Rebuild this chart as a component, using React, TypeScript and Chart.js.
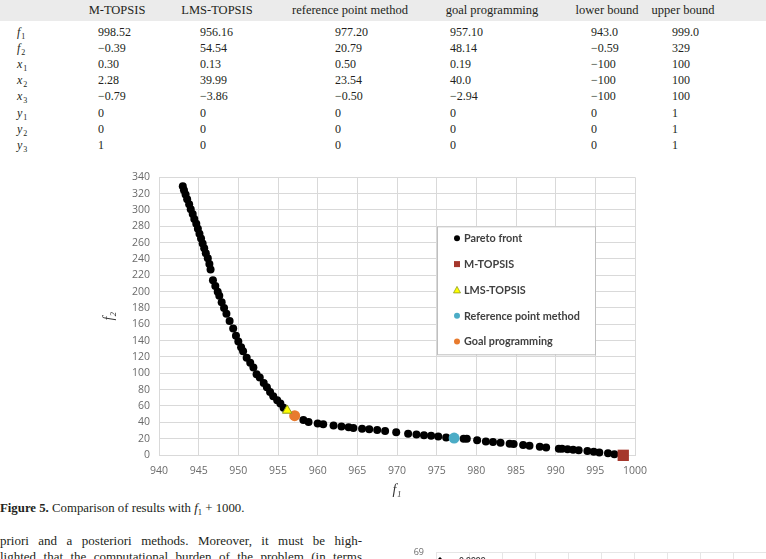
import React, { useEffect, useRef } from "react";
import { Chart, registerables } from "chart.js";

Chart.register(...registerables);

// Pareto front of the bi-objective problem (f1 shifted by +1000, f2)
const paretoF1 = [
  943.0, 943.15, 943.35, 943.55, 943.8, 944.0, 944.25, 944.45, 944.7, 944.9,
  945.1, 945.3, 945.5, 945.7, 945.9, 946.15, 946.35, 946.5, 946.8, 947.1,
  947.4, 947.6, 947.9, 948.2, 948.5, 948.9, 949.35, 949.7, 950.0, 950.35,
  950.6, 951.05, 951.5, 951.9, 952.3, 952.7, 953.2, 953.6, 954.0, 954.4,
  954.9, 955.3, 955.7, 958.2, 958.85, 960.0, 960.7, 962.0, 963.0, 963.9,
  964.5, 965.6, 966.5, 967.5, 968.5, 969.9, 971.4, 972.45, 973.4, 974.3,
  975.2, 976.2, 978.4, 978.8, 980.1, 981.2, 982.1, 983.05, 984.2, 984.7,
  985.9, 986.7, 988.0, 988.8, 990.4, 990.8, 991.5, 992.2, 992.9, 994.0,
  994.8, 995.5, 996.6, 997.4,
];
const paretoF2 = [
  329, 324, 319, 313, 307, 301, 295, 289, 283, 277,
  271, 265, 259, 253, 247, 241, 234, 227, 214, 207,
  200, 195, 187, 180, 173, 164, 155, 146, 139, 132,
  127, 119, 113, 107, 99, 95, 88, 83, 77, 72,
  67, 63, 58, 43, 40.5, 38.5, 37.5, 36, 35, 34,
  33, 32, 31.5, 30.5, 29.5, 28, 26, 25, 24.3, 23.5,
  22.7, 21.5, 19.8, 19.8, 18, 16.6, 15.8, 15, 13.7, 13.4,
  12.1, 11.3, 10.1, 9.3, 7.7, 7.5, 6.9, 6.5, 5.7, 4.9,
  4.1, 3.2, 2.0, 0.8,
];

// Compromise solutions picked by each method
const methodLabels = ["M-TOPSIS", "LMS-TOPSIS", "Reference point method", "Goal programming"];
const methodF1 = [998.52, 956.16, 977.2, 957.1];
const methodF2 = [-0.39, 54.54, 20.79, 48.14];

// Table contents
const tableHeaders = ["M-TOPSIS", "LMS-TOPSIS", "reference point method", "goal programming", "lower bound", "upper bound"];
const rowSymbols = ["f", "f", "x", "x", "x", "y", "y", "y"];
const rowIndices = ["1", "2", "1", "2", "3", "1", "2", "3"];
const mTopsisVars = ["0.30", "2.28", "\u22120.79", "0", "0", "1"];
const lmsTopsisVars = ["0.13", "39.99", "\u22123.86", "0", "0", "0"];
const referenceVars = ["0.50", "23.54", "\u22120.50", "0", "0", "0"];
const goalVars = ["0.19", "40.0", "\u22122.94", "0", "0", "0"];
const lowerBound = ["943.0", "\u22120.59", "\u2212100", "\u2212100", "\u2212100", "0", "0", "0"];
const upperBound = ["999.0", "329", "100", "100", "100", "1", "1", "1"];

// Axis ranges
const f1Min = 940;
const f1Max = 1000;
const f1Step = 5;
const f2Min = 0;
const f2Max = 340;
const f2Step = 20;

// Second figure (only its top edge is on the page)
const zrLabel = "zr=0.9999";
const zrYMax = 69;

// ---- styling -----------------------------------------------------------
const markerStyles = [
  { style: "rect", color: "#A5372C", border: "#A5372C", r: 8 },
  { style: "triangle", color: "#FFFF00", border: "#8E9A1E", r: 5.5 },
  { style: "circle", color: "#4BACC6", border: "#4BACC6", r: 5.5 },
  { style: "circle", color: "#E87B2E", border: "#E87B2E", r: 5.5 },
];

const fmt = (v: number) => v.toFixed(2).replace("-", "\u2212");

const colHeaderCenter = [117, 217, 350, 492, 607, 683];
const colValueLeft = [98, 200, 335, 450, 591, 672];
const rowY = [32, 48, 64, 80, 96, 113, 129, 145];

const legendPlugin = {
  id: "boxLegend",
  afterDraw(chart: any) {
    const { ctx, chartArea } = chart;
    const left = chartArea.left + 278;
    const top = chartArea.top + 49;
    const w = 158;
    const h = 128;
    ctx.save();
    ctx.fillStyle = "#ffffff";
    ctx.fillRect(left, top, w, h);
    ctx.strokeStyle = "#bfbfbf";
    ctx.lineWidth = 1;
    ctx.strokeRect(left + 0.5, top + 0.5, w, h);
    const items = [
      { label: "Pareto front", style: "circle", color: "#000000", border: "#000000" },
      ...methodLabels.map((l, i) => ({ label: l, ...markerStyles[i] })),
    ];
    ctx.font = "bold 10.8px Lato, 'Open Sans', sans-serif";
    ctx.textBaseline = "middle";
    items.forEach((it: any, i: number) => {
      const y = top + 12 + i * 25.8;
      const mx = left + 20;
      ctx.fillStyle = it.color;
      ctx.strokeStyle = it.border;
      if (it.style === "rect") {
        ctx.fillRect(mx - 3, y - 3, 6, 6);
      } else if (it.style === "triangle") {
        ctx.beginPath();
        ctx.moveTo(mx, y - 3.5);
        ctx.lineTo(mx + 3.5, y + 3);
        ctx.lineTo(mx - 3.5, y + 3);
        ctx.closePath();
        ctx.fill();
        ctx.lineWidth = 0.8;
        ctx.stroke();
      } else {
        ctx.beginPath();
        ctx.arc(mx, y, 3, 0, Math.PI * 2);
        ctx.fill();
      }
      ctx.fillStyle = "#404040";
      ctx.fillText(it.label, left + 27, y + 0.5);
    });
    ctx.restore();
  },
};

const zrLegendPlugin = {
  id: "zrLegend",
  afterDraw(chart: any) {
    const { ctx, chartArea } = chart;
    const x = chartArea.left + 4;
    const y = chartArea.top + 8;
    ctx.save();
    ctx.fillStyle = "#000000";
    ctx.beginPath();
    ctx.moveTo(x, y - 3.5);
    ctx.lineTo(x + 3.5, y);
    ctx.lineTo(x, y + 3.5);
    ctx.lineTo(x - 3.5, y);
    ctx.closePath();
    ctx.fill();
    ctx.fillStyle = "#404040";
    ctx.font = "bold 8.5px Lato, sans-serif";
    ctx.textBaseline = "middle";
    ctx.fillText(zrLabel, x + 7, y + 0.5);
    ctx.restore();
  },
};

export default function App() {
  const mainRef = useRef<HTMLCanvasElement>(null);
  const zrRef = useRef<HTMLCanvasElement>(null);

  useEffect(() => {
    const tickFont = { family: "'Open Sans', sans-serif", size: 10.5 };
    const grid = { color: "#d9d9d9", lineWidth: 1, drawTicks: false };
    const plainNumber = (v: any) => String(v);
    const main = new Chart(mainRef.current!, {
      type: "scatter",
      data: {
        datasets: [
          ...methodLabels.map((label, i) => ({
            label,
            data: [{ x: methodF1[i], y: methodF2[i] }],
            pointStyle: markerStyles[i].style,
            pointRadius: markerStyles[i].r,
            backgroundColor: markerStyles[i].color,
            borderColor: markerStyles[i].border,
            borderWidth: markerStyles[i].style === "triangle" ? 1 : 0,
            clip: false,
          })),
          {
            label: "Pareto front",
            data: paretoF1.map((x, i) => ({ x, y: paretoF2[i] })),
            pointStyle: "circle",
            pointRadius: 4,
            backgroundColor: "#000000",
            borderColor: "#000000",
            borderWidth: 0,
            clip: false,
          },
        ],
      },
      options: {
        animation: false,
        responsive: false,
        devicePixelRatio: 1,
        layout: { padding: { left: 0, top: 4, right: 25, bottom: 0 } },
        plugins: { legend: { display: false }, tooltip: { enabled: false } },
        scales: {
          x: {
            type: "linear",
            min: f1Min,
            max: f1Max,
            ticks: { stepSize: f1Step, padding: 10, color: "#6b6b6b", font: tickFont, callback: plainNumber },
            grid,
            border: { color: "#d9d9d9" },
            title: {
              display: true,
              text: "f\u2081",
              color: "#333",
              font: { family: "'Liberation Serif', serif", style: "italic", size: 14 },
              padding: { top: 0, bottom: 0 },
            },
            afterFit: (s: any) => {
              s.height = 44;
            },
          },
          y: {
            type: "linear",
            min: f2Min,
            max: f2Max,
            ticks: { stepSize: f2Step, padding: 9, color: "#6b6b6b", font: tickFont, callback: plainNumber },
            grid,
            border: { color: "#d9d9d9" },
            title: {
              display: true,
              text: "f\u2082",
              color: "#333",
              font: { family: "'Liberation Serif', serif", style: "italic", size: 14 },
              padding: { top: 1, bottom: 0 },
            },
            afterFit: (s: any) => {
              s.width = 59;
            },
          },
        },
      },
      plugins: [legendPlugin],
    } as any);

    const zr = new Chart(zrRef.current!, {
      type: "scatter",
      data: {
        datasets: [
          {
            label: zrLabel,
            data: [],
            pointStyle: "rectRot",
            backgroundColor: "#000",
          },
        ],
      },
      options: {
        animation: false,
        responsive: false,
        devicePixelRatio: 1,
        layout: { padding: { left: 0, top: 0, right: 0, bottom: 0 } },
        plugins: { legend: { display: false }, tooltip: { enabled: false } },
        scales: {
          x: {
            type: "linear",
            min: 0,
            max: 10,
            ticks: { stepSize: 1, display: false },
            grid: { color: "#e6e6e6", drawTicks: false },
            border: { display: false },
          },
          y: {
            type: "linear",
            min: 0,
            max: zrYMax,
            ticks: { stepSize: 10, padding: 12, color: "#6b6b6b", font: { family: "'Open Sans', sans-serif", size: 9 } },
            grid: { color: "#e6e6e6", drawTicks: false },
            border: { display: false },
            afterFit: (s: any) => {
              s.width = 45;
            },
          },
        },
      },
      plugins: [zrLegendPlugin],
    } as any);

    return () => {
      main.destroy();
      zr.destroy();
    };
  }, []);

  const valueColumns: string[][] = [
    [fmt(methodF1[0]), fmt(methodF2[0]), ...mTopsisVars],
    [fmt(methodF1[1]), fmt(methodF2[1]), ...lmsTopsisVars],
    [fmt(methodF1[2]), fmt(methodF2[2]), ...referenceVars],
    [fmt(methodF1[3]), fmt(methodF2[3]), ...goalVars],
    lowerBound,
    upperBound,
  ];

  const serif = "'Liberation Serif', 'DejaVu Serif', serif";
  const cell: React.CSSProperties = {
    position: "absolute",
    fontFamily: serif,
    fontSize: 12,
    color: "#231f20",
    lineHeight: "14px",
    whiteSpace: "nowrap",
  };

  return (
    <div
      style={{
        position: "fixed",
        left: 0,
        top: 0,
        width: 766,
        height: 559,
        overflow: "hidden",
        background: "#ffffff",
      }}
    >
      {/* table header band */}
      <div style={{ position: "absolute", left: 0, top: 0, width: 766, height: 21, background: "#ebebeb" }} />
      {tableHeaders.map((h, i) => (
        <div
          key={h}
          style={{ ...cell, top: 3, left: colHeaderCenter[i], transform: "translateX(-50%)", fontSize: 12.5 }}
        >
          {h}
        </div>
      ))}
      {rowSymbols.map((s, r) => (
        <div key={"row" + r} style={{ ...cell, top: rowY[r] - 7, left: 17 }}>
          <i>{s}</i>
          <span style={{ fontSize: 8, position: "relative", top: 3, marginLeft: 1 }}>{rowIndices[r]}</span>
        </div>
      ))}
      {valueColumns.map((col, c) =>
        col.map((v, r) => (
          <div key={c + "-" + r} style={{ ...cell, top: rowY[r] - 7, left: colValueLeft[c] }}>
            {v}
          </div>
        ))
      )}

      <canvas
        ref={mainRef}
        width={560}
        height={337}
        style={{ position: "absolute", left: 100, top: 162, width: 560, height: 337 }}
      />

      <div style={{ ...cell, top: 501, left: 0, fontSize: 12.8 }}>
        <b>Figure 5.</b> Comparison of results with <i>f</i>
        <span style={{ fontSize: 8.5, position: "relative", top: 3 }}>1</span> + 1000.
      </div>

      <div
        style={{
          ...cell,
          top: 533,
          left: 0,
          width: 362,
          fontSize: 13,
          lineHeight: "16px",
          whiteSpace: "normal",
          textAlign: "justify",
          textAlignLast: "justify",
        }}
      >
        <div>priori and a posteriori methods. Moreover, it must be high-</div>
        <div>lighted that the computational burden of the problem (in terms</div>
      </div>

      <canvas
        ref={zrRef}
        width={375}
        height={300}
        style={{ position: "absolute", left: 391, top: 535, width: 375, height: 300 }}
      />
    </div>
  );
}
